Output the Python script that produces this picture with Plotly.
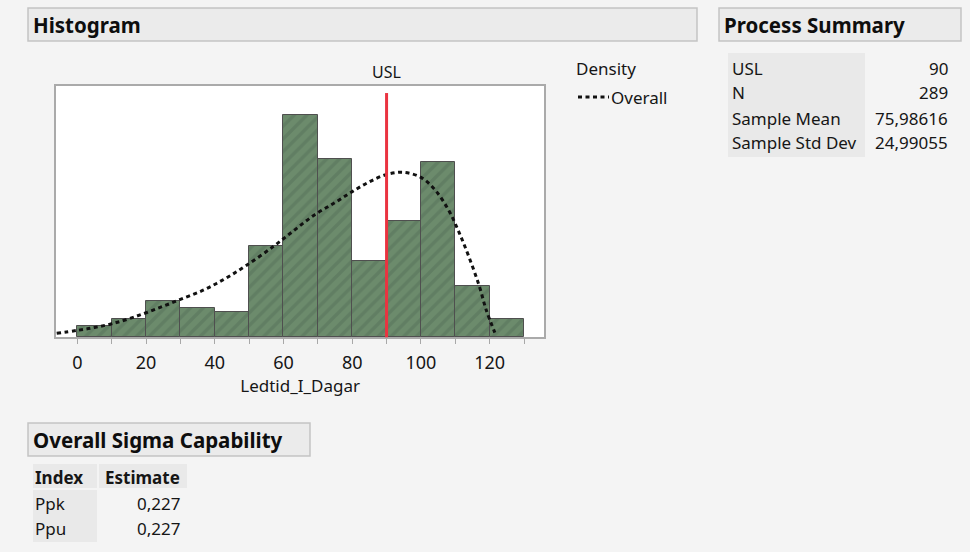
import plotly.graph_objects as go

# ---- data ----
bin_starts = [0, 10, 20, 30, 40, 50, 60, 70, 80, 90, 100, 110, 120]
bin_width = 10
counts = [3, 5, 10, 8, 7, 25, 61, 49, 21, 32, 48, 14, 5]

# fitted density (scaled to counts)
density_x = [-6, 0, 5, 10, 16, 23, 30, 37, 43, 49, 57, 63, 69, 75, 80, 85,
             90, 95, 100, 104, 108, 111, 114, 117, 119, 121.5]
density_y = [1.1, 1.9, 2.7, 3.7, 5.4, 7.8, 10.4, 13.1, 16.1, 19.6, 24.9, 29.3,
             33.6, 37.0, 40.0, 42.7, 44.7, 45.3, 43.9, 40.6, 35.0, 29.0, 22.0,
             14.0, 7.5, 1.3]

usl = 90
x_tick_vals = [0, 20, 40, 60, 80, 100, 120]
x_label = "Ledtid_I_Dagar"

summary_labels = ["USL", "N", "Sample Mean", "Sample Std Dev"]
summary_values = ["90", "289", "75,98616", "24,99055"]

sigma_headers = ["Index", "Estimate"]
sigma_index = ["Ppk", "Ppu"]
sigma_estimate = ["0,227", "0,227"]

# ---- page geometry (pixels) ----
W, H = 970, 552
FONT = "Noto Sans"
TXT = "#161616"
BG = "#f4f4f4"
CELL = "#e9e9e9"
HDR_FILL = "#ebebeb"
HDR_LINE = "#c4c4c4"
FS = 17


def px(x):
    return x / W


def py(y):
    return 1 - y / H


fig = go.Figure()

bar_centers = [s + bin_width / 2 for s in bin_starts]
fig.add_trace(go.Bar(
    x=bar_centers, y=counts, width=bin_width,
    marker=dict(
        color="#6c8b6c",
        line=dict(color="#4f4f4f", width=1),
        pattern=dict(shape="/", fgcolor="#56725a", size=9, solidity=0.4),
    ),
    showlegend=False, hoverinfo="skip",
))

fig.add_trace(go.Scatter(
    x=density_x, y=density_y, mode="lines", name="Overall",
    line=dict(color="#111111", width=3, dash="4px,3.5px", shape="spline"),
    showlegend=False, hoverinfo="skip",
))

shapes = []
annotations = []

# USL reference line
shapes.append(dict(type="line", xref="x", yref="y domain",
                   x0=usl, x1=usl, y0=0, y1=0.972,
                   line=dict(color="#ea3340", width=3), layer="above"))
annotations.append(dict(xref="x", yref="y domain", x=usl, y=1, yshift=14,
                        text="USL", showarrow=False, yanchor="middle",
                        font=dict(family=FONT, size=16, color=TXT)))

# density legend
annotations.append(dict(xref="paper", yref="paper", x=px(574), y=py(68),
                        text="Density", showarrow=False, xanchor="left",
                        yanchor="middle", font=dict(family=FONT, size=FS, color=TXT)))
shapes.append(dict(type="line", xref="paper", yref="paper",
                   x0=px(578), x1=px(609), y0=py(97), y1=py(97),
                   line=dict(color="#111111", width=3, dash="4px,3.5px")))
annotations.append(dict(xref="paper", yref="paper", x=px(609), y=py(97),
                        text="Overall", showarrow=False, xanchor="left",
                        yanchor="middle", font=dict(family=FONT, size=FS, color=TXT)))


def header(x0, x1, y0, y1, text):
    shapes.append(dict(type="rect", xref="paper", yref="paper",
                       x0=px(x0), x1=px(x1), y0=py(y1), y1=py(y0),
                       fillcolor=HDR_FILL, line=dict(color=HDR_LINE, width=1.5),
                       layer="below"))
    annotations.append(dict(xref="paper", yref="paper", x=px(x0 + 3),
                            y=py((y0 + y1) / 2), text="<b>%s</b>" % text,
                            showarrow=False, xanchor="left", yanchor="middle",
                            font=dict(family=FONT, size=20.5, color="#0e0e0e")))


def cell(x0, x1, y0, y1):
    shapes.append(dict(type="rect", xref="paper", yref="paper",
                       x0=px(x0), x1=px(x1), y0=py(y1), y1=py(y0),
                       fillcolor=CELL, line=dict(width=0), layer="below"))


def text(x, y, s, anchor="left", bold=False):
    annotations.append(dict(xref="paper", yref="paper", x=px(x), y=py(y),
                            text="<b>%s</b>" % s if bold else s,
                            showarrow=False, xanchor=anchor, yanchor="middle",
                            font=dict(family=FONT, size=FS, color=TXT)))


header(28, 697, 8, 41, "Histogram")
header(719, 961, 8, 41, "Process Summary")
header(28, 310, 423, 456, "Overall Sigma Capability")

# process summary table
cell(728, 865, 53, 157)
row_y = [68, 93, 118, 143]
for lab, val, y in zip(summary_labels, summary_values, row_y):
    text(730, y, lab)
    text(950, y, val, anchor="right")

# sigma capability table
cell(33, 97, 464, 488)
cell(99, 187, 464, 488)
cell(33, 97, 490, 542)
text(33, 477, sigma_headers[0], bold=True)
text(182, 477, sigma_headers[1], anchor="right", bold=True)
for idx, est, y in zip(sigma_index, sigma_estimate, [504, 528]):
    text(33, y, idx)
    text(182, y, est, anchor="right")

fig.update_layout(
    width=W, height=H,
    margin=dict(l=0, r=0, t=0, b=0),
    paper_bgcolor=BG, plot_bgcolor="white",
    bargap=0, showlegend=False,
    font=dict(family=FONT, size=FS, color=TXT),
    shapes=shapes, annotations=annotations,
    xaxis=dict(
        domain=[px(56), px(544.3)], range=[-6.2, 135.9],
        tickvals=x_tick_vals, ticks="outside", ticklen=5, tickcolor="#a8a8a8",
        tickwidth=1, showgrid=False, zeroline=False,
        showline=True, linecolor="#aaaaaa", linewidth=1.5, mirror=True,
        tickfont=dict(family=FONT, size=18, color=TXT),
        ticklabelstandoff=3,
        minor=dict(dtick=10, tick0=0, ticks="outside", ticklen=5,
                   tickcolor="#a8a8a8", showgrid=False),
        title=dict(text=x_label, font=dict(family=FONT, size=FS, color=TXT),
                   standoff=7),
    ),
    yaxis=dict(
        domain=[py(337.3), py(86)], range=[0, 69],
        showticklabels=False, ticks="", showgrid=False, zeroline=False,
        showline=True, linecolor="#aaaaaa", linewidth=1.5, mirror=True,
    ),
)

fig.write_html("out.html")
